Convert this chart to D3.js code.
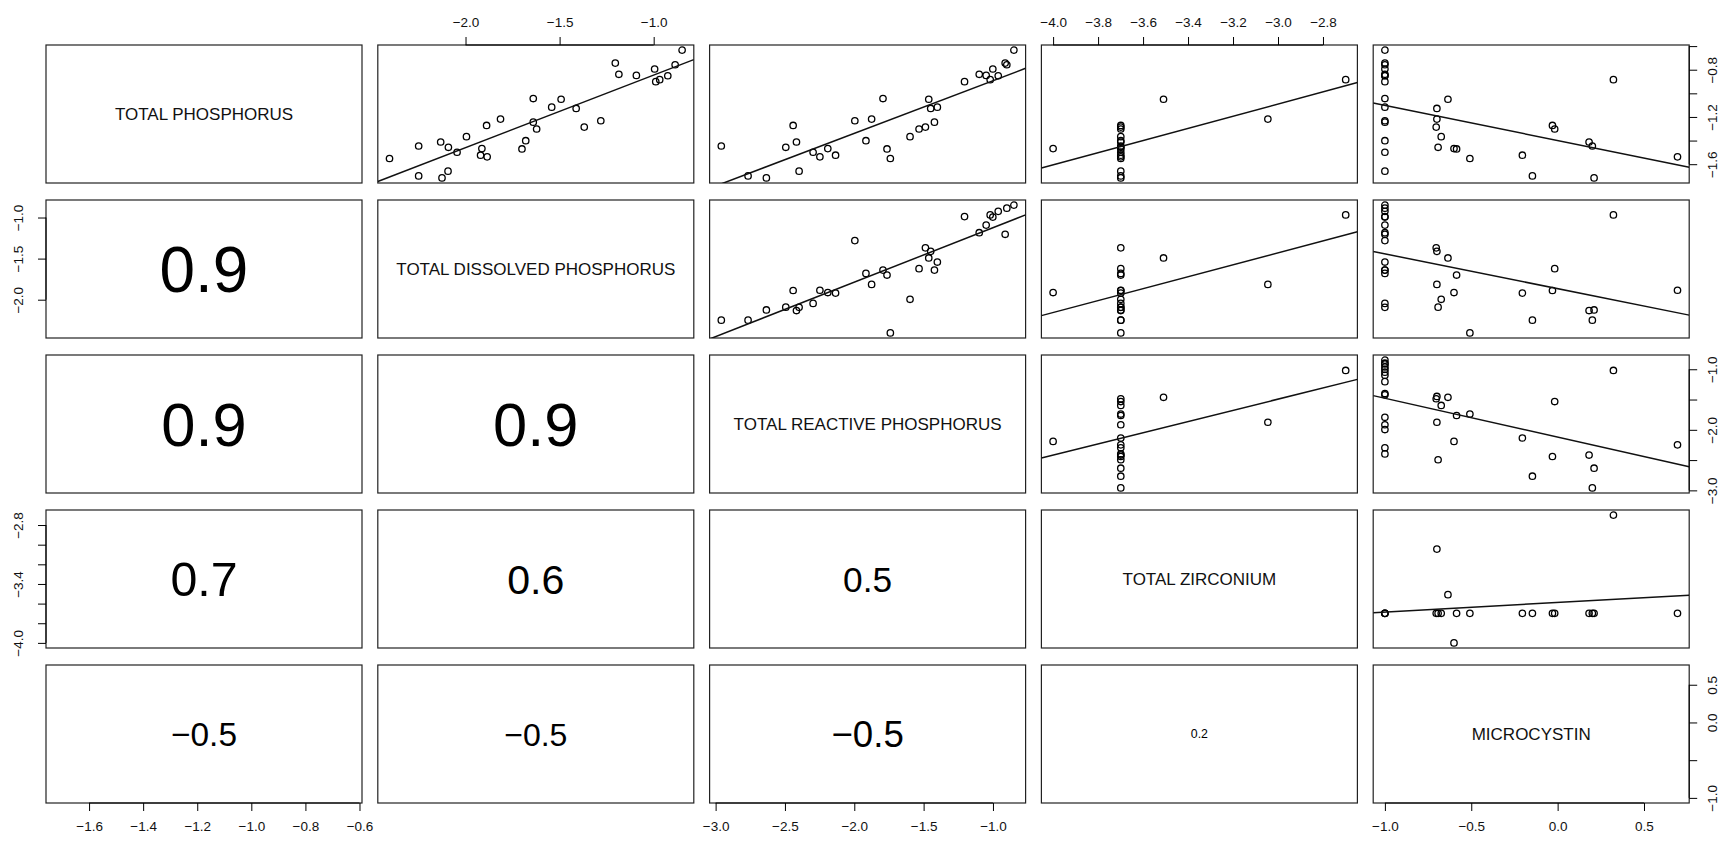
<!DOCTYPE html>
<html>
<head>
<meta charset="utf-8">
<script src="https://cdn.jsdelivr.net/npm/d3@7"></script>
<style>
body{margin:0;background:#fff;}
text{font-family:"Liberation Sans",Arial,Helvetica,sans-serif;}
</style>
</head>
<body>
<div id="chart"></div>
<script>
// variable names shown on the diagonal
var names=["TOTAL PHOSPHORUS","TOTAL DISSOLVED PHOSPHORUS","TOTAL REACTIVE PHOSPHORUS","TOTAL ZIRCONIUM","MICROCYSTIN"];

// one value per sample (log10 scale), null = missing
var tp =[-0.634,-0.744,-0.758,-0.794,-0.839,-0.848,-0.851,-0.884,-0.901,-1.044,-1.050,-1.117,-1.128,-1.218,-1.232,-1.244,-1.272,-1.286,-1.302,-1.367,-1.401,-1.412,-1.446,-1.457,-1.468,-1.471,-1.499,-1.524,-1.538,-1.552,-1.659,-1.699,-1.716];
var tdp=[-0.849,-1.204,-0.886,-0.995,-1.185,-1.092,-0.925,-0.968,-0.989,-1.640,-1.492,-1.542,-1.412,-1.814,-1.281,-1.640,-1.888,-1.369,-1.622,-1.995,-1.680,-2.132,-2.249,-2.091,-1.913,-1.700,-2.045,-1.920,-1.885,-2.404,-2.093,-2.249,-2.125];
var trp=[-0.849,-0.912,-0.900,-1.001,-1.099,-1.049,-0.962,-1.020,-1.205,-1.793,-1.463,-1.401,-1.449,-1.875,-1.996,-1.422,-2.441,-1.487,-1.533,-1.598,-1.916,-2.417,-2.959,-2.494,-2.191,-1.764,-2.297,-2.135,-2.248,-1.740,-2.398,-2.766,-2.634];
var tzr=[null,null,null,null,null,null,null,-2.699,null,null,-3.509,null,null,-3.045,null,null,-3.699,-3.699,-3.699,-3.699,-3.699,-3.699,-3.699,-3.699,-4.0,-3.699,-3.699,-3.699,-3.699,-3.699,-3.699,-3.699,-3.699];
var mc =[-1,-1,-1,-1,-1,-1,-1,0.323,-1,-1,-0.635,-1,-0.699,-0.699,-1,-1,-0.030,-0.703,-0.017,-0.674,-1,0.182,0.201,-0.692,-0.600,-0.585,-1,-0.204,0.694,-0.508,-1,-0.146,0.211];

// axis ticks per variable, and which of them carry a label on the side (y) axes
var ticks=[[-1.6,-1.4,-1.2,-1.0,-0.8,-0.6],[-2.0,-1.5,-1.0],[-3.0,-2.5,-2.0,-1.5,-1.0],[-4.0,-3.8,-3.6,-3.4,-3.2,-3.0,-2.8],[-1.0,-0.5,0.0,0.5]];
var sideLabels=[[-1.6,-1.2,-0.8],[-2.0,-1.5,-1.0],[-3.0,-2.0,-1.0],[-4.0,-3.4,-2.8],[-1.0,0.0,0.5]];

var W=1724,H=843;
var colLeft=46,colStep=331.8,pw=316;
var rowTop=45,rowStep=155,ph=138;
var vars=[tp,tdp,trp,tzr,mc];
var n=vars.length;
var fmt=d3.format(".1f");

var svg=d3.select("#chart").append("svg")
    .attr("width",W)
    .attr("height",H);

svg.append("clipPath").attr("id","clip")
    .append("rect").attr("width",pw).attr("height",ph);

function ok(d){return d!=null;}

var sx=vars.map(function(v){
    var e=d3.extent(v.filter(ok)),p=(e[1]-e[0])*0.04;
    return d3.scaleLinear().domain([e[0]-p,e[1]+p]).range([0,pw]);
});
var sy=vars.map(function(v){
    var e=d3.extent(v.filter(ok)),p=(e[1]-e[0])*0.04;
    return d3.scaleLinear().domain([e[0]-p,e[1]+p]).range([ph,0]);
});

// pairwise complete observations
function pairs(a,b){
    var out=[];
    a.forEach(function(d,k){ if(ok(d)&&ok(b[k])) out.push([d,b[k]]); });
    return out;
}
function stats(p){
    var mx=d3.mean(p,d=>d[0]),my=d3.mean(p,d=>d[1]);
    var sxy=d3.sum(p,d=>(d[0]-mx)*(d[1]-my));
    var sxx=d3.sum(p,d=>(d[0]-mx)*(d[0]-mx));
    var syy=d3.sum(p,d=>(d[1]-my)*(d[1]-my));
    var b=sxy/sxx;
    return {slope:b,icpt:my-b*mx,r:sxy/Math.sqrt(sxx*syy)};
}

for(var i=0;i<n;i++){
    for(var j=0;j<n;j++){
        var g=svg.append("g")
            .attr("transform","translate("+(colLeft+j*colStep)+","+(rowTop+i*rowStep)+")");

        g.append("rect")
            .attr("width",pw).attr("height",ph)
            .attr("fill","none").attr("stroke","#222").attr("stroke-width",1.2);

        if(i==j){
            g.append("text")
                .attr("x",pw/2).attr("y",ph/2)
                .attr("dy","0.35em")
                .attr("text-anchor","middle")
                .attr("font-size","17px")
                .attr("fill","#111")
                .text(names[i]);
        } else if(i<j){
            var p=pairs(vars[j],vars[i]);
            var x=sx[j],y=sy[i];
            g.selectAll("circle").data(p).enter().append("circle")
                .attr("cx",d=>x(d[0]))
                .attr("cy",d=>y(d[1]))
                .attr("r",3.2)
                .attr("fill","none")
                .attr("stroke","#000")
                .attr("stroke-width",1.3);
            var s=stats(p);
            var dom=x.domain();
            g.append("line")
                .attr("clip-path","url(#clip)")
                .attr("x1",x(dom[0])).attr("y1",y(s.icpt+s.slope*dom[0]))
                .attr("x2",x(dom[1])).attr("y2",y(s.icpt+s.slope*dom[1]))
                .attr("stroke","#111").attr("stroke-width",1.5);
        } else {
            var r=stats(pairs(vars[j],vars[i])).r;
            g.append("text")
                .attr("x",pw/2).attr("y",ph/2)
                .attr("dy","0.36em")
                .attr("text-anchor","middle")
                .attr("font-size",(70*Math.abs(r))+"px")
                .attr("fill","#000")
                .text(fmt(r));
        }

        // outer axes, alternating sides as in pairs()
        if(i==0 && j%2==1) drawAxis(g,d3.axisTop(sx[j]),ticks[j],ticks[j],sx[j],"top");
        if(i==n-1 && j%2==0) drawAxis(g.append("g").attr("transform","translate(0,"+ph+")"),d3.axisBottom(sx[j]),ticks[j],ticks[j],sx[j],"bottom");
        if(j==0 && i%2==1) drawAxis(g,d3.axisLeft(sy[i]),ticks[i],sideLabels[i],sy[i],"left");
        if(j==n-1 && i%2==0) drawAxis(g.append("g").attr("transform","translate("+pw+",0)"),d3.axisRight(sy[i]),ticks[i],sideLabels[i],sy[i],"right");
    }
}

function drawAxis(parent,axis,tv,lv,scale,side){
    var a=parent.append("g")
        .call(axis.tickValues(tv).tickSize(8).tickPadding(10).tickSizeOuter(0)
            .tickFormat(d=>lv.indexOf(d)>=0?fmt(d):""));
    a.select(".domain").remove();
    var lo=scale(tv[0]),hi=scale(tv[tv.length-1]);
    if(side=="top"||side=="bottom")
        a.append("line").attr("x1",lo).attr("x2",hi).attr("stroke","#000");
    else
        a.append("line").attr("y1",lo).attr("y2",hi).attr("stroke","#000");
    a.selectAll(".tick line").attr("stroke","#000");
    a.selectAll(".tick text")
        .attr("font-size","13.5px")
        .attr("fill","#111")
        .attr("font-family","Liberation Sans, Arial, sans-serif");
    if(side=="left"||side=="right"){
        var off=side=="left"?-28:23;
        a.selectAll(".tick text")
            .attr("x",null).attr("y",null)
            .attr("text-anchor","middle")
            .attr("dy","0.35em")
            .attr("transform","translate("+off+",0) rotate(-90)");
    }
}
</script>
</body>
</html>
